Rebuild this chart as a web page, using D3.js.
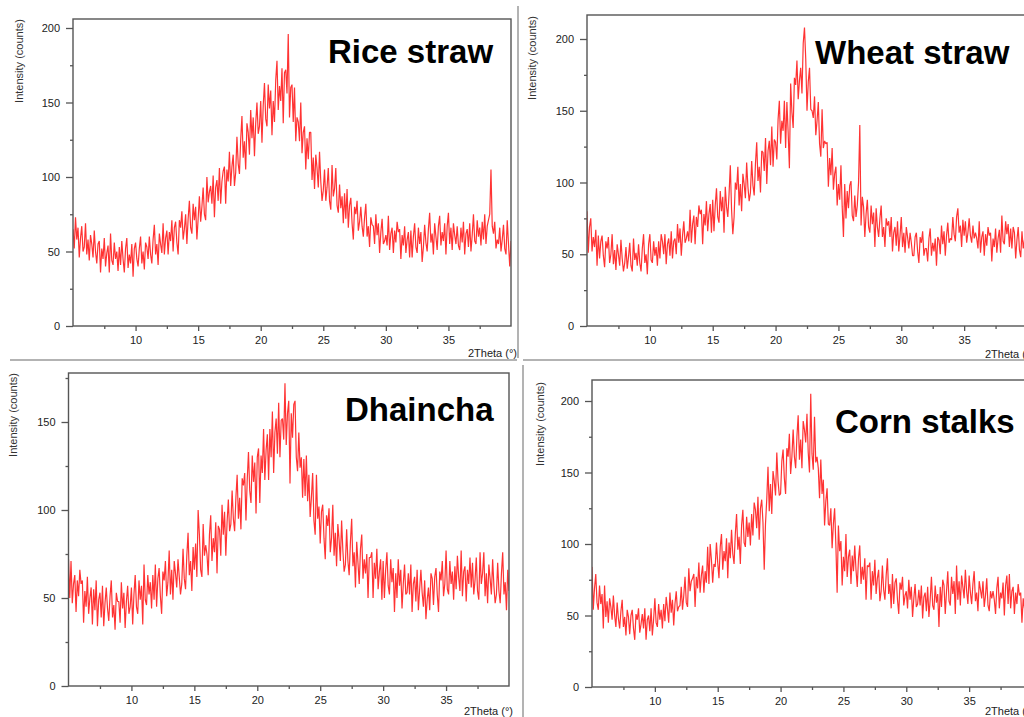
<!DOCTYPE html>
<html>
<head>
<meta charset="utf-8">
<script src="https://cdn.jsdelivr.net/npm/d3@7"></script>
<style>
  body { margin: 0; background: #fff; }
  svg { display: block; }
</style>
</head>
<body>
<div id="chart"></div>
<script>
// XRD scans, counts every 0.1 degree from 5 to 40 (2Theta)
const thetaStart = 5;
const thetaStep = 0.1;

const riceStraw = [
  65, 52, 73, 58, 66, 46, 59, 67, 50, 53,
  69, 48, 58, 44, 61, 55, 46, 64, 50, 42,
  55, 57, 36, 52, 45, 59, 40, 49, 54, 36,
  62, 44, 41, 56, 45, 50, 37, 53, 41, 57,
  45, 36, 52, 59, 39, 48, 42, 55, 33, 52,
  56, 45, 40, 52, 60, 42, 50, 38, 56, 53,
  45, 60, 48, 42, 58, 68, 48, 55, 41, 62,
  55, 49, 69, 48, 59, 64, 48, 63, 57, 71,
  50, 66, 70, 56, 48, 71, 66, 77, 58, 65,
  75, 55, 72, 84, 66, 62, 82, 71, 80, 58,
  72, 87, 70, 80, 93, 75, 71, 100, 83, 90,
  94, 82, 101, 73, 93, 98, 84, 106, 82, 97,
  104, 107, 82, 105, 97, 117, 94, 107, 115, 94,
  103, 127, 109, 102, 125, 141, 113, 124, 105, 136,
  130, 115, 145, 126, 140, 114, 136, 150, 129, 134,
  151, 123, 148, 163, 139, 134, 162, 146, 158, 128,
  151, 137, 165, 178, 145, 161, 151, 173, 136, 170,
  172, 156, 196, 140, 160, 162, 137, 160, 124, 140,
  137, 124, 150, 116, 130, 134, 105, 126, 112, 130,
  130, 98, 113, 92, 115, 106, 93, 117, 97, 84,
  91, 105, 84, 93, 106, 84, 78, 108, 87, 92,
  106, 81, 76, 95, 79, 87, 69, 89, 72, 92,
  66, 81, 86, 69, 58, 80, 75, 84, 64, 70,
  80, 67, 60, 73, 82, 60, 67, 53, 73, 68,
  67, 55, 75, 61, 69, 49, 63, 72, 55, 57,
  61, 54, 74, 51, 62, 66, 49, 64, 56, 70,
  63, 65, 45, 61, 54, 67, 49, 58, 63, 46,
  64, 46, 60, 69, 53, 49, 66, 55, 63, 43,
  53, 68, 56, 50, 65, 76, 56, 62, 48, 69,
  60, 51, 67, 74, 54, 63, 57, 69, 48, 67,
  76, 55, 66, 51, 69, 61, 55, 67, 54, 51,
  66, 56, 70, 48, 62, 65, 53, 69, 50, 61,
  75, 57, 55, 71, 60, 66, 54, 70, 58, 75,
  55, 67, 71, 75, 105, 67, 62, 70, 52, 58,
  55, 66, 50, 58, 68, 52, 48, 71, 55, 40,
  57
];

const wheatStraw = [
  80, 51, 69, 75, 52, 62, 55, 67, 42, 63,
  47, 59, 63, 49, 41, 59, 54, 62, 44, 50,
  64, 43, 53, 39, 57, 50, 42, 60, 47, 38,
  44, 55, 40, 48, 58, 42, 38, 61, 46, 51,
  42, 57, 44, 38, 54, 64, 44, 50, 36, 57,
  64, 46, 44, 59, 49, 55, 42, 59, 47, 64,
  59, 50, 64, 43, 57, 61, 49, 66, 47, 59,
  61, 50, 71, 58, 68, 49, 63, 73, 58, 61,
  66, 59, 81, 58, 71, 77, 57, 76, 69, 84,
  78, 81, 57, 78, 70, 87, 66, 78, 85, 65,
  88, 66, 84, 96, 76, 72, 94, 80, 90, 65,
  97, 83, 76, 92, 112, 81, 64, 76, 100, 95,
  111, 84, 99, 80, 106, 99, 89, 114, 97, 87,
  93, 115, 98, 91, 113, 128, 101, 111, 93, 122,
  121, 108, 131, 99, 122, 129, 112, 139, 111, 130,
  128, 116, 144, 157, 127, 143, 136, 157, 124, 156,
  135, 110, 169, 149, 138, 173, 168, 185, 158, 171,
  180, 162, 197, 208, 186, 150, 170, 180, 151, 150,
  145, 160, 133, 143, 156, 127, 118, 151, 124, 129,
  127, 128, 97, 117, 105, 124, 95, 106, 111, 84,
  99, 88, 112, 83, 62, 99, 75, 94, 82, 98,
  101, 77, 73, 91, 76, 84, 100, 140, 70, 90,
  83, 62, 78, 88, 69, 65, 84, 71, 79, 55,
  82, 69, 62, 75, 84, 62, 69, 55, 75, 70,
  73, 62, 76, 52, 65, 69, 56, 73, 52, 63,
  76, 55, 65, 51, 69, 62, 54, 65, 58, 49,
  49, 62, 65, 52, 44, 62, 58, 66, 49, 54,
  54, 45, 61, 68, 49, 58, 52, 61, 42, 62,
  60, 50, 70, 57, 66, 49, 63, 72, 58, 61,
  60, 76, 64, 59, 76, 82, 65, 70, 55, 74,
  63, 73, 58, 65, 75, 63, 58, 70, 61, 65,
  61, 54, 73, 51, 62, 66, 49, 64, 56, 69,
  63, 65, 45, 61, 55, 68, 51, 61, 67, 51,
  77, 59, 57, 73, 64, 71, 55, 68, 54, 69,
  65, 47, 60, 69, 53, 48, 66, 54, 60, 40,
  54
];

const dhaincha = [
  72, 50, 71, 47, 58, 63, 42, 60, 51, 66,
  58, 60, 36, 54, 45, 62, 41, 50, 56, 35,
  55, 43, 60, 34, 49, 53, 39, 57, 34, 47,
  56, 44, 37, 51, 60, 39, 46, 32, 53, 48,
  48, 36, 59, 44, 53, 33, 48, 57, 41, 45,
  56, 35, 52, 63, 45, 41, 60, 49, 57, 35,
  69, 49, 46, 63, 52, 59, 44, 63, 49, 69,
  45, 61, 67, 51, 41, 65, 60, 71, 51, 59,
  77, 52, 66, 49, 71, 64, 56, 72, 62, 52,
  58, 78, 61, 55, 74, 87, 63, 71, 54, 79,
  66, 81, 62, 100, 86, 66, 62, 92, 74, 80,
  75, 63, 86, 97, 71, 84, 76, 93, 64, 91,
  89, 74, 103, 86, 99, 74, 93, 106, 88, 92,
  111, 95, 88, 107, 120, 95, 107, 89, 118, 114,
  121, 94, 117, 133, 111, 104, 131, 116, 127, 98,
  130, 135, 104, 131, 121, 146, 117, 134, 143, 117,
  146, 130, 156, 121, 144, 152, 132, 161, 130, 151,
  152, 140, 172, 137, 155, 162, 115, 155, 141, 160,
  162, 130, 122, 144, 124, 130, 107, 129, 108, 131,
  105, 120, 96, 107, 121, 94, 86, 120, 95, 102,
  81, 99, 103, 84, 72, 97, 91, 101, 76, 84,
  103, 74, 87, 68, 92, 83, 71, 94, 77, 65,
  69, 89, 71, 63, 82, 95, 68, 76, 56, 82,
  70, 58, 78, 86, 61, 72, 64, 75, 50, 73,
  73, 76, 50, 70, 61, 78, 55, 65, 72, 49,
  71, 50, 66, 76, 57, 52, 72, 59, 67, 42,
  64, 50, 72, 57, 66, 44, 58, 69, 52, 53,
  64, 52, 69, 42, 58, 62, 48, 66, 43, 55,
  66, 53, 45, 60, 38, 49, 56, 43, 64, 61,
  46, 62, 67, 52, 42, 65, 60, 71, 51, 58,
  77, 55, 52, 71, 58, 65, 49, 68, 55, 74,
  62, 54, 77, 51, 65, 68, 48, 66, 58, 73,
  56, 70, 52, 60, 73, 54, 49, 76, 58, 64,
  76, 51, 64, 47, 69, 61, 52, 72, 57, 47,
  52, 70, 54, 47, 64, 76, 52, 59, 43, 66,
  54
];

const cornStalks = [
  84, 54, 69, 79, 59, 54, 71, 58, 65, 41,
  71, 49, 60, 45, 62, 56, 47, 64, 50, 42,
  59, 48, 41, 53, 61, 42, 49, 36, 54, 49,
  37, 50, 54, 41, 33, 51, 47, 55, 38, 44,
  51, 41, 55, 33, 47, 50, 39, 55, 36, 47,
  62, 45, 42, 58, 47, 54, 41, 58, 46, 63,
  55, 45, 66, 52, 61, 43, 58, 67, 53, 56,
  57, 70, 54, 64, 77, 59, 56, 83, 67, 74,
  76, 79, 56, 77, 69, 87, 66, 78, 85, 66,
  81, 73, 98, 72, 100, 89, 73, 86, 84, 101,
  87, 76, 98, 107, 82, 95, 88, 104, 76, 101,
  90, 110, 93, 86, 107, 121, 96, 105, 86, 113,
  124, 101, 98, 119, 105, 115, 99, 121, 106, 129,
  124, 111, 133, 103, 125, 131, 115, 82, 114, 131,
  154, 123, 142, 121, 151, 144, 134, 164, 144, 134,
  135, 158, 166, 146, 135, 167, 161, 177, 149, 161,
  180, 161, 153, 175, 190, 159, 173, 153, 186, 180,
  171, 191, 164, 150, 205, 163, 152, 189, 157, 161,
  153, 132, 159, 135, 145, 113, 130, 139, 114, 113,
  125, 97, 114, 125, 99, 66, 113, 95, 102, 71,
  91, 81, 107, 77, 91, 96, 72, 92, 81, 99,
  82, 70, 90, 99, 72, 84, 75, 90, 61, 85,
  84, 87, 61, 81, 71, 89, 65, 76, 82, 60,
  67, 85, 68, 61, 78, 90, 65, 72, 55, 79,
  58, 73, 76, 61, 51, 73, 68, 77, 57, 64,
  67, 55, 75, 61, 70, 49, 62, 72, 56, 58,
  68, 57, 71, 48, 63, 66, 53, 70, 49, 61,
  77, 57, 54, 71, 59, 65, 42, 70, 56, 75,
  71, 51, 67, 81, 60, 57, 77, 65, 74, 51,
  85, 61, 74, 57, 78, 70, 62, 82, 67, 58,
  78, 66, 58, 72, 81, 60, 66, 53, 74, 68,
  62, 74, 56, 64, 76, 57, 53, 67, 62, 67,
  61, 51, 69, 77, 55, 66, 62, 73, 50, 71,
  78, 58, 79, 55, 67, 70, 51, 66, 58, 72,
  64, 66, 45, 62, 55, 69, 51, 59, 64, 46,
  57
];

const xMajorTicks = [10, 15, 20, 25, 30, 35];
const xMinorTicks = [7.5, 12.5, 17.5, 22.5, 27.5, 32.5, 37.5];
const yMajorTicks = [0, 50, 100, 150, 200];
const yMinorTicks = [25, 75, 125, 175];

const width = 1024;
const height = 717;
const font = "'Liberation Sans', Arial, sans-serif";
const axisColor = "#555";

// panel boxes in page pixels
const panels = [
  { title: "Rice straw", values: riceStraw, left: 73, right: 511, top: 19, bottom: 326,
    yMax: 200, yMaxPx: 28, titleX: 328, titleY: 63, yLabelX: 19, yLabelY: 61, xLabelX: 517, xLabelY: 357 },
  { title: "Wheat straw", values: wheatStraw, left: 587, right: 1027, top: 15, bottom: 326,
    yMax: 200, yMaxPx: 39, titleX: 815, titleY: 64, yLabelX: 532, yLabelY: 58, xLabelX: 1034, xLabelY: 358 },
  { title: "Dhaincha", values: dhaincha, left: 68.5, right: 509, top: 373, bottom: 686,
    yMax: 150, yMaxPx: 422, titleX: 345, titleY: 421, yLabelX: 13, yLabelY: 415, xLabelX: 513, xLabelY: 715 },
  { title: "Corn stalks", values: cornStalks, left: 592, right: 1032, top: 380, bottom: 687,
    yMax: 200, yMaxPx: 401, titleX: 835, titleY: 433, yLabelX: 540, yLabelY: 424, xLabelX: 1034, xLabelY: 715 }
];

const svg = d3.select("#chart").append("svg")
    .attr("width", width)
    .attr("height", height)
    .style("font-family", font);

// grey separators between the four pictures
const sep = svg.append("g").attr("stroke", "#9a9a9a").attr("stroke-width", 1.5).attr("fill", "none");
sep.append("path").attr("d", "M10,360H517M518,6V358");
sep.append("path").attr("d", "M523,360H1024M523,365V717");

panels.forEach((p, k) => {
    const x = d3.scaleLinear().domain([5, 40]).range([p.left, p.right]);
    const y = d3.scaleLinear().domain([0, p.yMax]).range([p.bottom, p.yMaxPx]);
    const g = svg.append("g");

    g.append("clipPath").attr("id", "clip" + k)
      .append("rect")
        .attr("x", p.left).attr("y", p.top)
        .attr("width", p.right - p.left).attr("height", p.bottom - p.top);

    const line = d3.line()
        .x((d, i) => x(thetaStart + i * thetaStep))
        .y(d => y(d));

    g.append("path")
        .datum(p.values)
        .attr("clip-path", "url(#clip" + k + ")")
        .attr("fill", "none")
        .attr("stroke", "#ff0000")
        .attr("stroke-width", 1.2)
        .attr("stroke-opacity", 0.8)
        .attr("stroke-linejoin", "bevel")
        .attr("d", line);

    // frame
    g.append("rect")
        .attr("x", p.left).attr("y", p.top)
        .attr("width", p.right - p.left).attr("height", p.bottom - p.top)
        .attr("fill", "none")
        .attr("stroke", axisColor)
        .attr("stroke-width", 1.4);

    // axes
    g.append("g").attr("transform", `translate(0,${p.bottom})`)
        .call(d3.axisBottom(x).tickValues(xMajorTicks).tickSize(5).tickPadding(5).tickFormat(d3.format("d")));
    g.append("g").attr("transform", `translate(0,${p.bottom})`)
        .call(d3.axisBottom(x).tickValues(xMinorTicks).tickSize(3).tickFormat(""));
    g.append("g").attr("transform", `translate(${p.left},0)`)
        .call(d3.axisLeft(y).tickValues(yMajorTicks.filter(v => v <= p.yMax)).tickSize(7).tickPadding(6));
    g.append("g").attr("transform", `translate(${p.left},0)`)
        .call(d3.axisLeft(y).tickValues(yMinorTicks.filter(v => y(v) > p.top)).tickSize(3).tickFormat(""));

    g.selectAll(".domain").remove();
    g.selectAll(".tick line").attr("stroke", axisColor).attr("stroke-width", 1.3);
    g.selectAll(".tick text")
        .attr("fill", "#222")
        .style("font-family", font)
        .style("font-size", "11px");

    g.append("text")
        .attr("transform", `translate(${p.yLabelX},${p.yLabelY}) rotate(-90)`)
        .attr("text-anchor", "middle")
        .attr("dy", "0.35em")
        .attr("fill", "#333")
        .style("font-size", "11px")
        .text("Intensity (counts)");

    // the right-hand pictures are cut at the page edge, as in the source
    g.append("text")
        .attr("x", p.xLabelX).attr("y", p.xLabelY)
        .attr("text-anchor", "end")
        .attr("fill", "#222")
        .style("font-size", "11px")
        .text("2Theta (°)");

    g.append("text")
        .attr("x", p.titleX).attr("y", p.titleY)
        .attr("fill", "#000")
        .style("font-size", "33px")
        .style("font-weight", "bold")
        .text(p.title);
});
</script>
</body>
</html>
